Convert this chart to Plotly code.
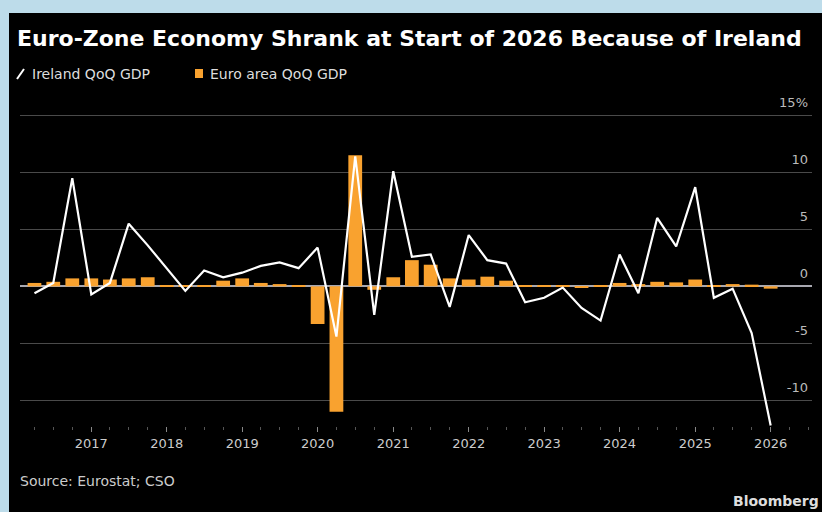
import pandas as pd
import plotly.graph_objects as go

# ---------------- data ----------------
quarters = [
    "2016Q2", "2016Q3", "2016Q4",
    "2017Q1", "2017Q2", "2017Q3", "2017Q4",
    "2018Q1", "2018Q2", "2018Q3", "2018Q4",
    "2019Q1", "2019Q2", "2019Q3", "2019Q4",
    "2020Q1", "2020Q2", "2020Q3", "2020Q4",
    "2021Q1", "2021Q2", "2021Q3", "2021Q4",
    "2022Q1", "2022Q2", "2022Q3", "2022Q4",
    "2023Q1", "2023Q2", "2023Q3", "2023Q4",
    "2024Q1", "2024Q2", "2024Q3", "2024Q4",
    "2025Q1", "2025Q2", "2025Q3", "2025Q4",
    "2026Q1",
]
ireland_qoq = [
    -0.6, 0.3, 9.5,
    -0.7, 0.3, 5.5, 3.6,
    1.6, -0.4, 1.4, 0.8,
    1.2, 1.8, 2.1, 1.6,
    3.4, -4.4, 11.4, -2.5,
    10.1, 2.6, 2.8, -1.8,
    4.5, 2.3, 2.0, -1.4,
    -1.0, -0.1, -1.9, -3.0,
    2.8, -0.6, 6.0, 3.5,
    8.7, -1.0, -0.2, -4.1,
    -12.2,
]
euro_qoq = [
    0.3, 0.4, 0.7,
    0.7, 0.6, 0.7, 0.8,
    0.1, 0.1, 0.1, 0.5,
    0.7, 0.3, 0.2, 0.1,
    -3.3, -11.0, 11.5, -0.3,
    0.8, 2.3, 1.9, 0.7,
    0.6, 0.85, 0.5, 0.05,
    0.05, 0.1, -0.1, 0.05,
    0.3, 0.2, 0.4, 0.35,
    0.6, 0.1, 0.2, 0.15,
    -0.2,
]
y_tick_vals = [-10, -5, 0, 5, 10, 15]
y_tick_text = ["-10", "-5", "0", "5", "10", "15%"]

title_text = "Euro-Zone Economy Shrank at Start of 2026 Because of Ireland"
legend_ireland = "Ireland QoQ GDP"
legend_euro = "Euro area QoQ GDP"
source_text = "Source: Eurostat; CSO"
brand_text = "Bloomberg"

# ---------------- styling ----------------
W, H = 822, 512
PL, PR, PT, PB = 20, 812, 104, 426          # plot area in pixels
BLACK = "#000000"
BLUE = "#BDDCEA"
ORANGE = "#F9A22F"
WHITE = "#FFFFFF"
FONT = "DejaVu Sans"


def px(x):
    return (x - PL) / (PR - PL)


def py(y):
    return (PB - y) / (PB - PT)


dates = pd.PeriodIndex(quarters, freq="Q").to_timestamp(how="start")

fig = go.Figure()
fig.add_trace(go.Bar(
    x=dates, y=euro_qoq, name=legend_euro,
    marker=dict(color=ORANGE, line=dict(width=0)),
    showlegend=False,
))
fig.add_trace(go.Scatter(
    x=dates, y=ireland_qoq, name=legend_ireland, mode="lines",
    line=dict(color=WHITE, width=2.2),
    showlegend=False,
))

shapes = [
    # light blue frame (top and left bands)
    dict(type="rect", xref="paper", yref="paper", x0=px(0), x1=px(W), y0=py(13), y1=py(0),
         fillcolor=BLUE, line=dict(width=0), layer="below"),
    dict(type="rect", xref="paper", yref="paper", x0=px(0), x1=px(9), y0=py(H), y1=py(0),
         fillcolor=BLUE, line=dict(width=0), layer="below"),
    # legend icons
    dict(type="line", xref="paper", yref="paper", x0=px(17), x1=px(24), y0=py(79), y1=py(69),
         line=dict(color=WHITE, width=2)),
    dict(type="rect", xref="paper", yref="paper", x0=px(195), x1=px(203), y0=py(78), y1=py(69),
         fillcolor=ORANGE, line=dict(width=0)),
]

annotations = [
    dict(text=legend_ireland, x=px(30), y=py(74), xref="paper", yref="paper",
         xanchor="left", yanchor="middle", showarrow=False,
         font=dict(family=FONT, size=14, color="#DDDDDD")),
    dict(text=legend_euro, x=px(208), y=py(74), xref="paper", yref="paper",
         xanchor="left", yanchor="middle", showarrow=False,
         font=dict(family=FONT, size=14, color="#DDDDDD")),
    dict(text=source_text, x=px(18), y=py(481), xref="paper", yref="paper",
         xanchor="left", yanchor="middle", showarrow=False,
         font=dict(family=FONT, size=14, color="#CCCCCC")),
    dict(text="<b>" + brand_text + "</b>", x=px(821), y=py(501), xref="paper", yref="paper",
         xanchor="right", yanchor="middle", showarrow=False,
         font=dict(family=FONT, size=14, color="#DDDDDD")),
]

fig.update_layout(
    width=W, height=H,
    margin=dict(l=PL, r=W - PR, t=PT, b=H - PB, pad=0),
    paper_bgcolor=BLACK, plot_bgcolor=BLACK,
    title=dict(text="<b>" + title_text + "</b>", xref="container", yref="container",
               x=17 / W, y=1 - 38 / H, xanchor="left", yanchor="middle",
               font=dict(family=FONT, size=22, color=WHITE)),
    bargap=0.26,
    showlegend=False,
    shapes=shapes,
    annotations=annotations,
    xaxis=dict(
        type="date",
        range=["2016-01-22", "2026-07-20"],
        tick0="2017-01-01", dtick="M12", tickformat="%Y",
        ticks="outside", ticklen=5, tickcolor="#888888", tickwidth=1,
        minor=dict(dtick="M3", ticks="outside", ticklen=3, tickcolor="#555555", showgrid=False),
        showgrid=False, zeroline=False, showline=False,
        tickfont=dict(family=FONT, size=13, color="#CCCCCC"),
        fixedrange=True,
    ),
    yaxis=dict(
        range=[-12.25, 16],
        side="right",
        tickvals=y_tick_vals, ticktext=y_tick_text,
        ticklabelposition="inside", ticklabelshift=-13, ticklabelstandoff=1,
        ticklabeloverflow="allow",
        ticks="",
        showgrid=True, gridcolor="#4A4A4A", gridwidth=1,
        zeroline=True, zerolinecolor="#A8A8B0", zerolinewidth=1.5,
        showline=False,
        tickfont=dict(family=FONT, size=13, color="#BBBBBB"),
        fixedrange=True,
    ),
)

fig.write_html("out.html")
